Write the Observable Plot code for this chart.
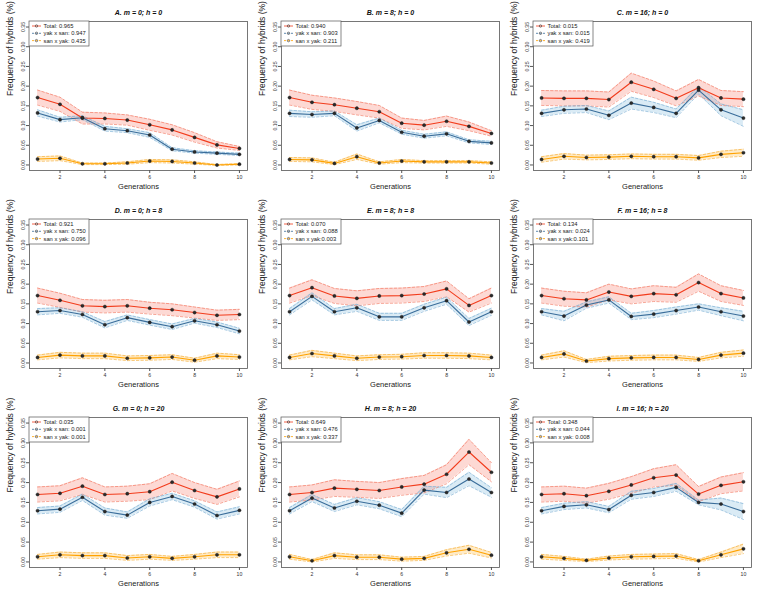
<!DOCTYPE html>
<html><head><meta charset="utf-8">
<script src="https://cdn.jsdelivr.net/npm/d3@7"></script>
<script src="https://cdn.jsdelivr.net/npm/@observablehq/plot@0.6"></script>
<style>
body{margin:0;background:#fff;}
#grid{display:grid;grid-template-columns:252px 252px 253px;grid-template-rows:198px 198px 199px;width:757px;height:595px;}
#grid svg{display:block;}
</style></head><body><div id="grid"></div>
<script>
const generations = [1,2,3,4,5,6,7,8,9,10];
const xTicks = [2,4,6,8,10];
const yTicks = [0,0.05,0.10,0.15,0.20,0.25,0.30,0.35];
const titles = ["A. m = 0; h = 0","B. m = 8; h = 0","C. m = 16; h = 0","D. m = 0; h = 8","E. m = 8; h = 8","F. m = 16; h = 8","G. m = 0; h = 20","H. m = 8; h = 20","I. m = 16; h = 20"];
const legendTotal = ["Total: 0.965","Total: 0.940","Total: 0.015","Total: 0.921","Total: 0.070","Total: 0.134","Total: 0.035","Total: 0.649","Total: 0.348"];
const legendYak = ["yak x san: 0.947","yak x san: 0.903","yak x san: 0.015","yak x san: 0.750","yak x san: 0.088","yak x san: 0.024","yak x san: 0.001","yak x san: 0.476","yak x san: 0.044"];
const legendSan = ["san x yak: 0.435","san x yak: 0.211","san x yak: 0.419","san x yak: 0.096","san x yak:0.003","san x yak:0.101","san x yak: 0.001","san x yak: 0.337","san x yak: 0.008"];

const total = [
 [0.171,0.154,0.119,0.118,0.114,0.102,0.089,0.070,0.051,0.042],
 [0.171,0.159,0.153,0.144,0.135,0.106,0.101,0.111,0.098,0.080],
 [0.170,0.169,0.169,0.166,0.210,0.192,0.169,0.196,0.170,0.167],
 [0.171,0.159,0.145,0.143,0.145,0.139,0.135,0.128,0.121,0.123],
 [0.171,0.191,0.170,0.164,0.170,0.171,0.175,0.188,0.146,0.171],
 [0.171,0.163,0.160,0.180,0.169,0.176,0.173,0.204,0.176,0.165],
 [0.170,0.173,0.191,0.170,0.172,0.177,0.201,0.180,0.164,0.184],
 [0.170,0.175,0.186,0.183,0.180,0.189,0.196,0.221,0.277,0.226],
 [0.170,0.172,0.167,0.178,0.194,0.212,0.219,0.171,0.193,0.202]
];
const totalCI = [
 [0.019,0.018,0.015,0.014,0.013,0.014,0.013,0.012,0.008,0.005],
 [0.019,0.018,0.017,0.017,0.016,0.013,0.012,0.013,0.011,0.007],
 [0.019,0.019,0.019,0.019,0.023,0.021,0.019,0.021,0.019,0.019],
 [0.019,0.018,0.016,0.016,0.016,0.015,0.015,0.014,0.013,0.013],
 [0.019,0.020,0.019,0.019,0.019,0.019,0.019,0.020,0.017,0.019],
 [0.019,0.019,0.018,0.020,0.019,0.020,0.019,0.022,0.020,0.019],
 [0.019,0.019,0.021,0.019,0.019,0.020,0.022,0.020,0.019,0.020],
 [0.019,0.019,0.021,0.020,0.020,0.021,0.022,0.024,0.032,0.024],
 [0.019,0.019,0.019,0.020,0.021,0.023,0.026,0.019,0.021,0.023]
];
const yak = [
 [0.132,0.115,0.120,0.092,0.087,0.076,0.040,0.033,0.030,0.027],
 [0.131,0.128,0.131,0.094,0.113,0.083,0.073,0.079,0.060,0.056],
 [0.131,0.140,0.142,0.126,0.157,0.146,0.131,0.190,0.140,0.119],
 [0.130,0.133,0.123,0.097,0.115,0.103,0.092,0.107,0.097,0.081],
 [0.130,0.169,0.130,0.140,0.117,0.117,0.140,0.158,0.104,0.130],
 [0.130,0.119,0.147,0.160,0.118,0.124,0.133,0.142,0.130,0.119],
 [0.129,0.133,0.163,0.127,0.118,0.150,0.165,0.146,0.117,0.130],
 [0.129,0.161,0.136,0.153,0.143,0.123,0.181,0.175,0.209,0.175],
 [0.129,0.140,0.144,0.132,0.168,0.175,0.188,0.150,0.146,0.127]
];
const yakCI = [
 [0.008,0.006,0.005,0.006,0.005,0.006,0.004,0.003,0.003,0.003],
 [0.008,0.007,0.006,0.008,0.006,0.005,0.005,0.005,0.004,0.004],
 [0.008,0.009,0.009,0.011,0.015,0.013,0.011,0.010,0.015,0.021],
 [0.008,0.007,0.007,0.008,0.007,0.007,0.007,0.006,0.007,0.007],
 [0.008,0.009,0.008,0.009,0.009,0.009,0.009,0.009,0.009,0.009],
 [0.008,0.012,0.008,0.008,0.008,0.009,0.009,0.008,0.010,0.012],
 [0.008,0.008,0.008,0.009,0.008,0.009,0.008,0.008,0.009,0.009],
 [0.008,0.009,0.009,0.009,0.009,0.009,0.010,0.013,0.017,0.012],
 [0.008,0.008,0.008,0.008,0.010,0.010,0.010,0.006,0.015,0.020]
];
const san = [
 [0.015,0.017,0.003,0.003,0.005,0.010,0.009,0.005,0.000,0.002],
 [0.014,0.013,0.004,0.021,0.005,0.010,0.008,0.008,0.008,0.005],
 [0.014,0.022,0.019,0.020,0.022,0.021,0.021,0.018,0.027,0.031],
 [0.014,0.020,0.018,0.018,0.012,0.013,0.015,0.007,0.018,0.015],
 [0.014,0.024,0.018,0.012,0.015,0.016,0.019,0.019,0.018,0.014],
 [0.014,0.023,0.005,0.011,0.013,0.014,0.014,0.009,0.020,0.025],
 [0.013,0.018,0.016,0.016,0.010,0.013,0.009,0.013,0.018,0.018],
 [0.013,0.003,0.016,0.012,0.012,0.007,0.009,0.023,0.032,0.017],
 [0.013,0.009,0.004,0.010,0.013,0.014,0.015,0.003,0.018,0.033]
];
const sanCI = [
 [0.006,0.006,0.002,0.002,0.003,0.004,0.004,0.003,0.001,0.002],
 [0.005,0.005,0.003,0.007,0.003,0.004,0.003,0.003,0.003,0.003],
 [0.007,0.007,0.006,0.006,0.006,0.006,0.006,0.006,0.008,0.009],
 [0.006,0.007,0.007,0.007,0.006,0.006,0.006,0.005,0.007,0.006],
 [0.006,0.008,0.007,0.006,0.006,0.006,0.007,0.007,0.007,0.006],
 [0.006,0.008,0.004,0.006,0.006,0.006,0.006,0.005,0.007,0.008],
 [0.006,0.007,0.007,0.007,0.006,0.006,0.005,0.006,0.007,0.007],
 [0.006,0.003,0.007,0.006,0.006,0.005,0.005,0.008,0.010,0.007],
 [0.006,0.005,0.003,0.005,0.006,0.006,0.006,0.003,0.007,0.012]
];

const FONT = "Liberation Sans, Arial, sans-serif";
const styles = [
  {values: total, ci: totalCI, legend: legendTotal, line: "#f23c1c", band: "salmon", bandOpacity: 0.3, edge: "#f26a50", dash: null},
  {values: yak, ci: yakCI, legend: legendYak, line: "#3a6d9a", band: "#6baed6", bandOpacity: 0.25, edge: "#6fa8d0", dash: "2,1.5"},
  {values: san, ci: sanCI, legend: legendSan, line: "#ffa200", band: "#ffa500", bandOpacity: 0.22, edge: "#f5a623", dash: "2,1.5"}
];

function legendMark(p) {
  return (index, scales, values, dims) => {
    const g = d3.create("svg:g").attr("font-family", FONT).attr("text-anchor", "start");
    const x0 = dims.marginLeft, y0 = dims.marginTop;
    g.append("rect").attr("x", x0).attr("y", y0).attr("width", 60).attr("height", 25)
      .attr("fill", "white").attr("stroke", "#555").attr("stroke-width", 0.7);
    styles.forEach((s, i) => {
      const y = y0 + 5 + i * 7.3;
      g.append("line").attr("x1", x0 + 3).attr("x2", x0 + 12).attr("y1", y).attr("y2", y)
        .attr("stroke", s.line).attr("stroke-width", 0.8).attr("stroke-dasharray", s.dash);
      g.append("circle").attr("cx", x0 + 7.5).attr("cy", y).attr("r", 1.2)
        .attr("fill", "none").attr("stroke", "#333").attr("stroke-width", 0.6);
      g.append("text").attr("x", x0 + 14.5).attr("y", y).attr("dy", "0.35em")
        .attr("text-anchor", "start")
        .attr("font-size", 5.8).attr("fill", "#222").text(s.legend[p]);
    });
    return g.node();
  };
}

const grid = document.getElementById("grid");
for (let p = 0; p < 9; p++) {
  const col = p % 3, row = Math.floor(p / 3);
  const W = col === 2 ? 253 : 252;
  const H = row === 2 ? 199 : 198;
  const marks = [];
  const sets = styles.map(s => generations.map((g, i) => ({
    gen: g, v: s.values[p][i], lo: s.values[p][i] - s.ci[p][i], hi: s.values[p][i] + s.ci[p][i]
  })));
  styles.forEach((s, k) => {
    marks.push(Plot.areaY(sets[k], {x: "gen", y1: "lo", y2: "hi", fill: s.band, fillOpacity: s.bandOpacity}));
  });
  styles.forEach((s, k) => {
    marks.push(Plot.lineY(sets[k], {x: "gen", y: "lo", stroke: s.edge, strokeWidth: 0.6, strokeDasharray: "2.5,2"}));
    marks.push(Plot.lineY(sets[k], {x: "gen", y: "hi", stroke: s.edge, strokeWidth: 0.6, strokeDasharray: "2.5,2"}));
  });
  styles.forEach((s, k) => {
    marks.push(Plot.lineY(sets[k], {x: "gen", y: "v", stroke: s.line, strokeWidth: 1.1}));
  });
  styles.forEach((s, k) => {
    marks.push(Plot.dot(sets[k], {x: "gen", y: "v", r: 1.6, fill: "#2b2b2b", stroke: "#111", strokeWidth: 0.4}));
  });
  marks.push(Plot.frame({stroke: "#555", strokeWidth: 0.8}));
  marks.push(Plot.axisX(xTicks, {tickSize: 3, tickPadding: 2, fontSize: 5.2, label: null, stroke: "#555", fill: "#333"}));
  marks.push(Plot.axisY(yTicks, {tickSize: 3, tickPadding: 2, fontSize: 5.2, tickRotate: -90, tickFormat: d3.format(".2f"), label: null, stroke: "#555", fill: "#333"}));
  marks.push(Plot.text([titles[p]], {frameAnchor: "top", dy: -11, fontSize: 7, fontWeight: "bold", fontStyle: "italic", fill: "#111"}));
  marks.push(Plot.text(["Generations"], {frameAnchor: "bottom", dy: 18, fontSize: 7.5, fill: "#222"}));
  marks.push(Plot.text(["Frequency of hybrids (%)"], {frameAnchor: "left", dx: -19, rotate: -90, fontSize: 8.5, fill: "#222"}));
  marks.push(legendMark(p));
  const chart = Plot.plot({
    width: W, height: H,
    marginLeft: 29, marginRight: W - 247, marginTop: 21, marginBottom: 28,
    style: {fontFamily: FONT, background: "white", overflow: "visible"},
    x: {domain: [0.64, 10.36]},
    y: {domain: [-0.014, 0.364]},
    marks
  });
  grid.appendChild(chart);
}
</script></body></html>
